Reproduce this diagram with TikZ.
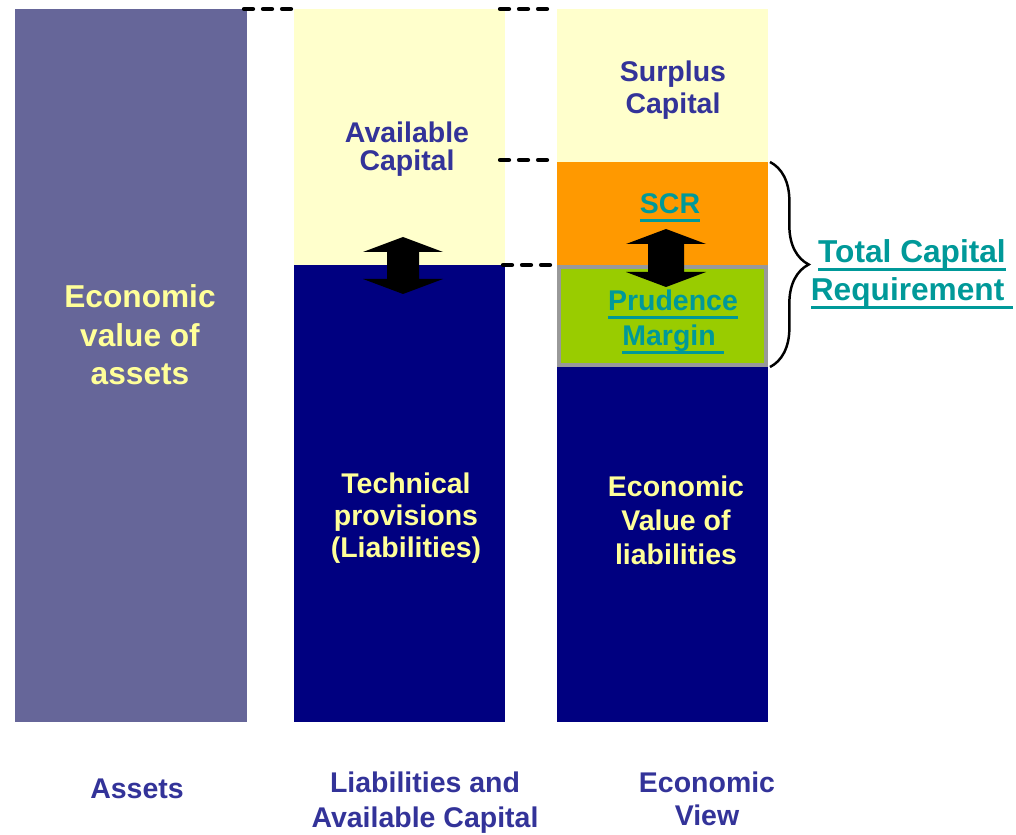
\documentclass[tikz,border=0pt]{standalone}
\usepackage{fontspec}
\setmainfont{Liberation Sans}
\usetikzlibrary{fit,decorations.pathreplacing}
\definecolor{assetblue}{HTML}{666699}
\definecolor{navy}{HTML}{000080}
\definecolor{paleyellow}{HTML}{FFFFCC}
\definecolor{capyellow}{HTML}{FFFF99}
\definecolor{scrorange}{HTML}{FF9900}
\definecolor{prugreen}{HTML}{99CC00}
\definecolor{prugray}{HTML}{999999}
\definecolor{reqteal}{HTML}{009999}
\definecolor{labelblue}{HTML}{333399}
\newcommand{\ulined}[1]{%
	\setbox0\hbox{#1}\rlap{\rule[-2.4pt]{\wd0}{0.9pt}}\box0%
}
\newcommand{\UpDown}[4]{
	\fill (#1-40,#2+15) -- (#1,#2) -- (#1+40,#2+15) -- (#1+#4,#2+15)
		-- (#1+#4,#3-15) -- (#1+40,#3-15) -- (#1,#3) -- (#1-40,#3-15)
		-- (#1-#4,#3-15) -- (#1-#4,#2+15) -- cycle;
}
\tikzset{
	bar/.style={inner sep=0pt, outer sep=0pt},
	lbl/.style={align=center, inner sep=0pt, font=\bfseries\fontsize{8.1}{#1}\selectfont},
	lbl/.default=9.2pt,
	biglbl/.style={align=center, inner sep=0pt, font=\bfseries\fontsize{9}{#1}\selectfont},
	biglbl/.default=10.8pt,
	dashline/.style={line width=1.2pt, line cap=round, dash pattern=on 2.56pt off 2.85pt},
}
\begin{document}
\begin{tikzpicture}[x=0.01cm, y=-0.01cm]
		\useasboundingbox (0,0) rectangle (1016,834);
		\node[bar, fit={(15,9) (247,722)}, fill=assetblue] (assets) {};
		\node[bar, fit={(294,9) (505,265)}, fill=paleyellow] (avail) {};
		\node[bar, fit={(294,265) (505,722)}, fill=navy] (techprov) {};
		\node[bar, fit={(557,9) (768,162)}, fill=paleyellow] (surplus) {};
		\node[bar, fit={(557,162) (768,265)}, fill=scrorange] (scr) {};
		\node[bar, fit={(557,265) (768,367)}, fill=prugreen] (prudence) {};
		\node[bar, fit={(557,367) (768,722)}, fill=navy] (econliab) {};
		\draw[prugray, line width=1.14pt] (559,267) rectangle (766,365);
		\coordinate (d1a) at (244,9);
		\coordinate (d1b) at (291,9);
		\coordinate (d2a) at (500,9);
		\coordinate (d2b) at (547,9);
		\coordinate (d3a) at (500,160);
		\coordinate (d3b) at (547,160);
		\coordinate (d4a) at (503,265);
		\coordinate (d4b) at (550,265);
		\draw[dashline] (d1a) -- (d1b);
		\draw[dashline] (d2a) -- (d2b);
		\draw[dashline] (d3a) -- (d3b);
		\draw[dashline] (d4a) -- (d4b);
		\UpDown{403}{237}{294}{16}
		\UpDown{666}{229}{287}{18}
		\draw[decorate, decoration={brace, amplitude=11pt}, line width=0.7pt]
			(scr.north east) ++(2,0) coordinate (bracetop) -- (prudence.south east -| bracetop);
		\node[biglbl=11pt, text=capyellow] (assetstext) at (140,335) {Economic\\value of\\assets};
		\node[lbl=8pt, text=labelblue] (availtext) at (407,149) {Available\\Capital};
		\node[lbl=9.1pt, text=capyellow] (techtext) at (406,518) {Technical\\provisions\\(Liabilities)};
		\node[lbl=9.1pt, text=labelblue] (surplustext) at (673,90) {Surplus\\Capital};
		\node[lbl, text=reqteal] (scrtext) at (670,208) {\ulined{SCR}};
		\node[lbl=10pt, text=reqteal] (prutext) at (673,322) {\ulined{Prudence}\\\ulined{Margin\ }};
		\node[lbl=9.7pt, text=capyellow] (liabtext) at (676,520) {Economic\\Value of\\liabilities};
		\node[biglbl, text=reqteal] (totaltext) at (912,274) {\ulined{Total Capital}\\\ulined{Requirement\ }};
		\node[lbl, text=labelblue] (assetslbl) at (137,789) {Assets};
		\node[lbl=10pt, text=labelblue] (liablbl) at (425,803) {Liabilities and\\Available Capital};
		\node[lbl=9.4pt, text=labelblue] (econlbl) at (707,799) {Economic\\View};
	\end{tikzpicture}
\end{document}
